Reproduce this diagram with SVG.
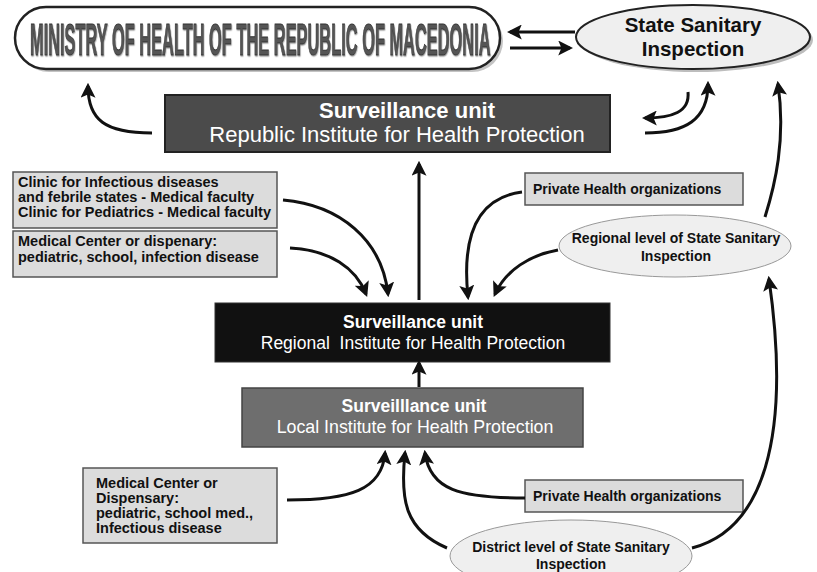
<svg xmlns="http://www.w3.org/2000/svg" width="817" height="572" viewBox="0 0 817 572">
<defs>
<marker id="ah" viewBox="0 0 14 14" refX="11" refY="7" markerWidth="15" markerHeight="15" markerUnits="userSpaceOnUse" orient="auto">
<path d="M0,0 L14,7 L0,14 L3,7 z" fill="#111"/>
</marker>
<filter id="ts" x="-5%" y="-20%" width="110%" height="140%">
<feDropShadow dx="1.2" dy="1.2" stdDeviation="0.6" flood-color="#999"/>
</filter>
<style>
.lbl{font-family:"Liberation Sans",Arial,sans-serif;font-weight:bold;font-size:14.5px;fill:#111}
.lbl2{font-family:"Liberation Sans",Arial,sans-serif;font-weight:bold;font-size:14px;fill:#111}
.box{fill:#dcdcdc;stroke:#555;stroke-width:1.5}
.ell{fill:#efefef;stroke:#999;stroke-width:1}
.unit{font-family:"Liberation Sans",Arial,sans-serif;fill:#fff;text-anchor:middle}
.conn path{fill:none;stroke:#111;stroke-width:3;marker-end:url(#ah)}
</style>
</defs>
<rect width="817" height="572" fill="#fff"/>

<g id="ministry">
<rect x="18" y="10" width="485" height="62" rx="31" fill="#c4c4c4"/>
<rect x="15" y="7" width="485" height="62" rx="31" fill="#fff" stroke="#222" stroke-width="2.5"/>
<text transform="translate(30,55) scale(0.38,1)" x="0" y="0" font-family="'Liberation Sans',Arial,sans-serif" font-weight="bold" font-size="44" fill="#555" stroke="#333" stroke-width="0.9" filter="url(#ts)" textLength="1212" lengthAdjust="spacingAndGlyphs">MINISTRY OF HEALTH OF THE REPUBLIC OF MACEDONIA</text>
</g>

<g id="state">
<ellipse cx="696" cy="40" rx="117" ry="32" fill="#bdbdbd"/>
<ellipse cx="693" cy="37" rx="117" ry="32" fill="#efefef" stroke="#222" stroke-width="2"/>
<text x="693" y="32" text-anchor="middle" font-family="'Liberation Sans',Arial,sans-serif" font-weight="bold" font-size="20.5" fill="#111">State Sanitary</text>
<text x="693" y="56" text-anchor="middle" font-family="'Liberation Sans',Arial,sans-serif" font-weight="bold" font-size="20.5" fill="#111">Inspection</text>
</g>

<g id="republic">
<rect x="165" y="95" width="445" height="57" fill="#4b4b4b" stroke="#222" stroke-width="2"/>
<text class="unit" x="407" y="118" font-size="22" font-weight="bold">Surveillance unit</text>
<text class="unit" x="397" y="142" font-size="22">Republic Institute for Health Protection</text>
</g>

<g id="clinic">
<rect class="box" x="13" y="172" width="264" height="56"/>
<text class="lbl" x="18" y="187">Clinic for Infectious diseases</text>
<text class="lbl" x="18" y="202">and febrile states - Medical faculty</text>
<text class="lbl" x="18" y="217">Clinic for Pediatrics - Medical faculty</text>
</g>

<g id="medcenter1">
<rect class="box" x="13" y="231" width="264" height="46"/>
<text class="lbl" x="18" y="246">Medical Center or dispenary:</text>
<text class="lbl" x="18" y="262">pediatric, school, infection disease</text>
</g>

<g id="private1">
<rect class="box" x="525" y="173" width="218" height="32"/>
<text class="lbl2" x="533" y="194">Private Health organizations</text>
</g>

<g id="regional-ssi">
<ellipse class="ell" cx="675" cy="246" rx="116" ry="31"/>
<text class="lbl2" x="676" y="243" text-anchor="middle">Regional level of State Sanitary</text>
<text class="lbl2" x="676" y="261" text-anchor="middle">Inspection</text>
</g>

<g id="regional">
<rect x="215" y="303" width="395" height="59" fill="#111" stroke="#333" stroke-width="1"/>
<text class="unit" x="413" y="328" font-size="17.5" font-weight="bold">Surveillance unit</text>
<text class="unit" x="413" y="349" font-size="17.5" xml:space="preserve">Regional  Institute for Health Protection</text>
</g>

<g id="local">
<rect x="242" y="388" width="341" height="59" fill="#6e6e6e" stroke="#444" stroke-width="1.5"/>
<text class="unit" x="414" y="412" font-size="17.5" font-weight="bold">Surveilllance unit</text>
<text class="unit" x="415" y="433" font-size="17.8">Local Institute for Health Protection</text>
</g>

<g id="medcenter2">
<rect class="box" x="83" y="468" width="194" height="75"/>
<text class="lbl" x="96" y="488">Medical Center or</text>
<text class="lbl" x="96" y="503">Dispensary:</text>
<text class="lbl" x="96" y="518">pediatric, school med.,</text>
<text class="lbl" x="96" y="533">Infectious disease</text>
</g>

<g id="private2">
<rect class="box" x="525" y="480" width="218" height="32"/>
<text class="lbl2" x="533" y="501">Private Health organizations</text>
</g>

<g id="district-ssi">
<ellipse class="ell" cx="571" cy="556" rx="121" ry="36"/>
<text class="lbl2" x="571" y="552" text-anchor="middle">District level of State Sanitary</text>
<text class="lbl2" x="571" y="569" text-anchor="middle">Inspection</text>
</g>

<g class="conn" id="connectors">
<path d="M575,32 L510,32"/>
<path d="M510,48 L570,48"/>
<path d="M152,133 C105,133 88,120 88,86"/>
<path d="M688,92 C690,112 672,118 645,118"/>
<path d="M645,133 C685,133 708,120 708,84"/>
<path d="M419,300 L419,164"/>
<path d="M283,200 C340,205 382,240 388,294"/>
<path d="M290,248 C330,250 356,268 366,294"/>
<path d="M522,192 C475,198 462,240 468,297"/>
<path d="M558,250 C530,255 506,270 495,294"/>
<path d="M765,217 C775,185 786,140 778,84"/>
<path d="M419,387 L419,363"/>
<path d="M287,500 C350,500 382,490 385,453"/>
<path d="M447,548 C405,530 400,500 405,453"/>
<path d="M525,498 C460,498 430,490 425,453"/>
<path d="M692,548 C762,530 792,440 769,279"/>
</g>
</svg>
